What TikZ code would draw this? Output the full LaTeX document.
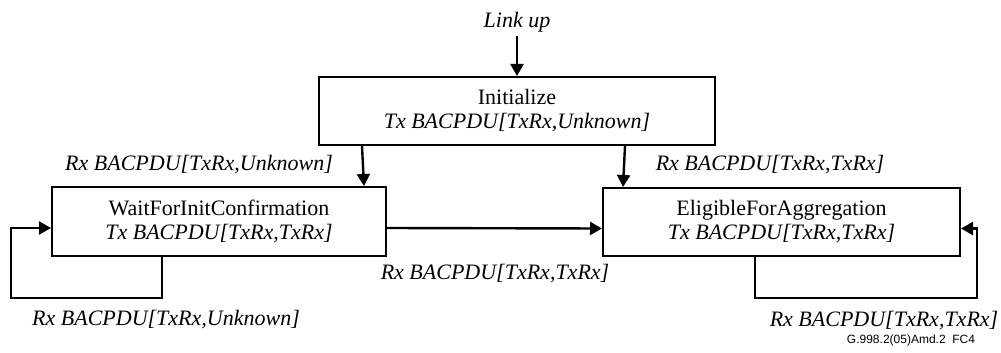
\documentclass[tikz,border=0pt]{standalone}
\usepackage{fontspec}
\setmainfont{Liberation Serif}
\newfontfamily\figidfont{Liberation Sans}
\usetikzlibrary{arrows.meta,calc}

\begin{document}
\begin{tikzpicture}[
    x=0.5pt, y=-0.5pt,
    state/.style={draw=black, line width=1pt, align=center, inner sep=0pt,
      font=\fontsize{11}{12}\selectfont},
    trans/.style={-{Triangle[length=6pt,width=6.5pt]}, line width=1.2pt},
    cond/.style={font=\fontsize{11}{13}\selectfont\itshape, inner sep=2pt}
  ]
    \useasboundingbox (0,0) rectangle (1001,353);

    % States of the aggregation machine
    \node[state, minimum width=198pt, minimum height=34pt] (init) at (517,111)
      {Initialize\\\textit{Tx BACPDU[TxRx,Unknown]}};
    \node[state, minimum width=167pt, minimum height=34.5pt] (wait) at (219,221.5)
      {WaitForInitConfirmation\\\textit{Tx BACPDU[TxRx,TxRx]}};
    \node[state, minimum width=178.5pt, minimum height=34pt] (eligible) at (781.5,222)
      {EligibleForAggregation\\\textit{Tx BACPDU[TxRx,TxRx]}};

    % Transition conditions
    \node[cond] (linkup) at (517,22) {Link up};
    \node[cond] (rxunk) at (199,165) {Rx BACPDU[TxRx,Unknown]};
    \node[cond] (rxtxrx) at (770,165) {Rx BACPDU[TxRx,TxRx]};
    \node[cond] (rxconf) at (495,274) {Rx BACPDU[TxRx,TxRx]};
    \node[cond] (rxwait) at (166,320) {Rx BACPDU[TxRx,Unknown]};
    \node[cond] (rxelig) at (884,321) {Rx BACPDU[TxRx,TxRx]};

    % Transitions
    \draw[trans] (linkup.south) -- (init.north);
    \draw[trans] ($(init.south west)+(44,0)$) -- ($(wait.north east)+(-23,0)$);
    \draw[trans] ($(init.south east)+(-91,0)$) -- ($(eligible.north west)+(21,0)$);
    \draw[trans] ([yshift=-3.25pt]wait.east) -- ([yshift=-3.25pt]eligible.west);

    % Self loops
    \draw[trans] ($(wait.south west)+(111,0)$) -- ++(0,41) -- ++(-151,0)
      |- ([yshift=-3.25pt]wait.west);
    \draw[trans] ($(eligible.south west)+(153,0)$) -- ++(0,41) -- ++(222,0)
      |- ([yshift=-3.25pt]eligible.east);

    \node[font=\figidfont\fontsize{6}{7}\selectfont] (figid) at (911,340) {G.998.2(05)Amd.2\ \ FC4};

\end{tikzpicture}
\end{document}
